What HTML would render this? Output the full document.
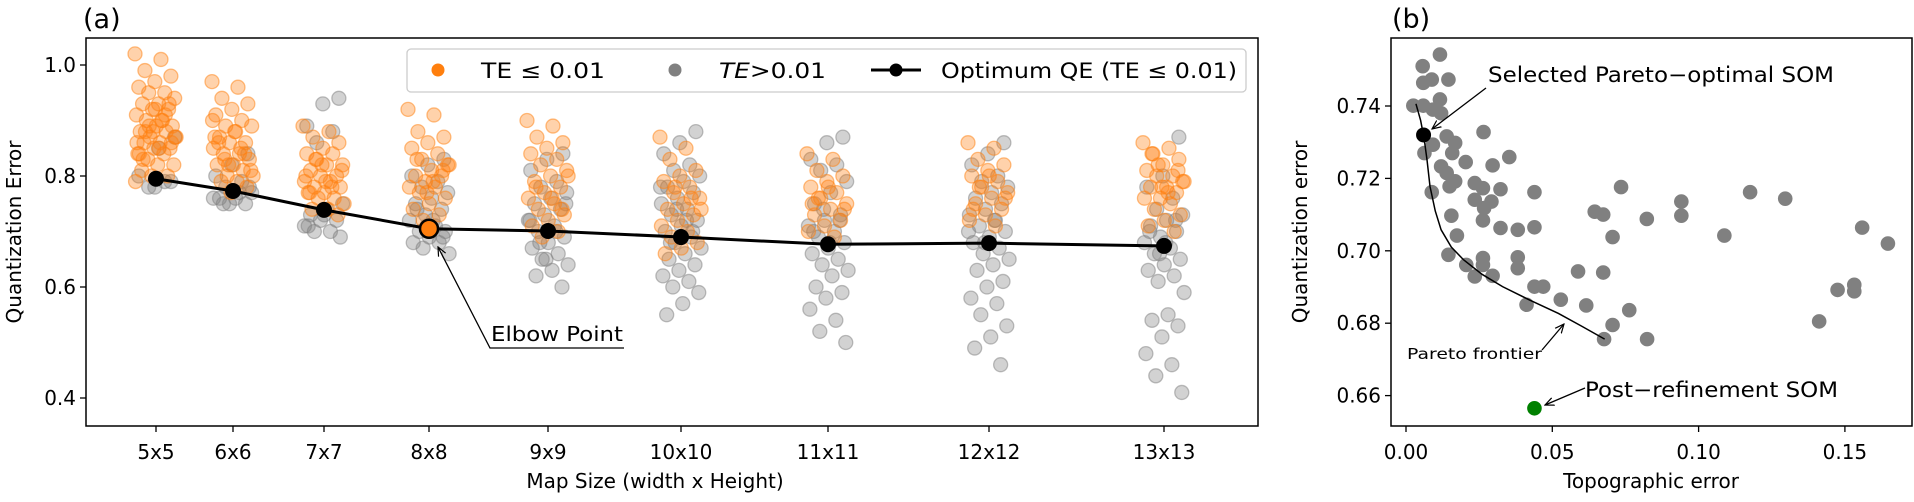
<!DOCTYPE html>
<html><head><meta charset="utf-8"><style>
html,body{margin:0;padding:0;background:#fff;}
svg text{font-family:"DejaVu Sans","Liberation Sans",sans-serif;fill:#000;}
</style></head><body>
<svg id="fig" width="1914" height="497" viewBox="0 0 1914 497" xmlns="http://www.w3.org/2000/svg">
<defs><marker id="ah" markerWidth="10" markerHeight="10" refX="9" refY="5" orient="auto" markerUnits="userSpaceOnUse"><path d="M0,1 L9,5 L0,9" fill="none" stroke="#000" stroke-width="1.2"/></marker></defs>
<g id="pa"></g>
<g id="pb"></g>
</svg>
<script>
// ---------- Panel (a) data ----------
const sizes = [5,6,7,8,9,10,11,12,13];
const sizeLabels = ["5x5","6x6","7x7","8x8","9x9","10x10","11x11","12x12","13x13"];
const optimumQE = [0.795,0.773,0.739,0.705,0.701,0.690,0.677,0.679,0.674];
const orange5 = [1.02,1.01,0.99,0.98,0.97,0.96,0.95,0.95,0.94,0.93,0.93,0.92,0.92,0.91,0.90,0.90,0.89,0.89,0.88,0.88,0.87,0.87,0.86,0.86,0.85,0.85,0.84,0.84,0.83,0.82,0.82,0.81,0.80,0.80,0.79,0.90,0.88,0.86,0.92,0.84,0.91,0.89,0.87,0.85,0.83,0.93,0.88,0.86];
const gray5 = [0.79,0.78,0.80,0.79,0.78,0.87,0.85];
const orange6 = [0.97,0.96,0.94,0.93,0.92,0.91,0.90,0.89,0.89,0.88,0.87,0.86,0.86,0.85,0.84,0.84,0.83,0.82,0.82,0.81,0.80,0.80,0.79,0.79,0.78,0.77,0.87,0.85,0.83,0.81,0.88,0.86,0.84,0.82,0.90];
const gray6 = [0.84,0.82,0.80,0.79,0.78,0.77,0.76,0.76,0.75,0.75,0.76,0.77,0.75,0.78];
const orange7 = [0.89,0.88,0.87,0.86,0.85,0.84,0.84,0.83,0.82,0.82,0.81,0.80,0.80,0.79,0.79,0.78,0.78,0.77,0.77,0.76,0.76,0.75,0.74,0.74,0.73,0.82,0.80,0.78,0.83,0.81,0.79,0.77];
const gray7 = [0.94,0.93,0.89,0.88,0.86,0.75,0.74,0.73,0.72,0.72,0.71,0.70,0.70,0.69,0.73,0.71];
const orange8 = [0.92,0.91,0.88,0.87,0.86,0.85,0.84,0.83,0.82,0.81,0.80,0.80,0.79,0.78,0.78,0.77,0.76,0.75,0.74,0.73,0.72,0.82,0.79,0.83,0.81,0.77];
const gray8 = [0.83,0.82,0.80,0.79,0.78,0.77,0.76,0.75,0.74,0.73,0.72,0.71,0.70,0.70,0.69,0.68,0.68,0.67,0.66,0.72,0.74,0.69,0.71];
const orange9 = [0.90,0.89,0.87,0.86,0.85,0.84,0.83,0.82,0.81,0.80,0.79,0.78,0.77,0.76,0.75,0.74,0.73,0.72,0.71,0.70,0.69,0.80,0.76,0.78,0.74];
const gray9 = [0.84,0.83,0.81,0.79,0.78,0.77,0.76,0.75,0.74,0.73,0.72,0.71,0.70,0.69,0.68,0.67,0.66,0.65,0.64,0.63,0.62,0.60,0.65,0.72,0.70,0.68,0.75];
const orange10 = [0.87,0.85,0.83,0.81,0.80,0.79,0.78,0.77,0.76,0.75,0.74,0.73,0.72,0.71,0.70,0.69,0.68,0.67,0.66,0.76,0.78,0.74];
const gray10 = [0.88,0.86,0.84,0.82,0.81,0.80,0.79,0.78,0.77,0.76,0.75,0.74,0.73,0.72,0.71,0.70,0.69,0.68,0.67,0.66,0.65,0.64,0.63,0.62,0.61,0.60,0.59,0.57,0.55,0.70,0.74,0.78,0.72,0.68];
const orange11 = [0.84,0.83,0.81,0.80,0.79,0.78,0.77,0.76,0.75,0.74,0.73,0.72,0.71,0.70,0.69,0.76,0.74,0.78,0.75];
const gray11 = [0.87,0.86,0.83,0.82,0.81,0.79,0.77,0.75,0.73,0.72,0.71,0.70,0.69,0.68,0.67,0.66,0.65,0.64,0.63,0.62,0.60,0.59,0.58,0.56,0.54,0.52,0.50,0.68,0.70,0.72,0.74];
const orange12 = [0.86,0.85,0.83,0.82,0.81,0.80,0.79,0.78,0.77,0.76,0.75,0.74,0.73,0.72,0.71,0.78,0.76,0.80,0.74];
const gray12 = [0.86,0.84,0.82,0.80,0.79,0.78,0.77,0.76,0.75,0.74,0.73,0.72,0.71,0.70,0.69,0.68,0.67,0.66,0.65,0.64,0.63,0.61,0.60,0.58,0.57,0.55,0.53,0.51,0.49,0.46,0.68,0.70,0.72];
const orange13 = [0.86,0.85,0.84,0.83,0.82,0.81,0.80,0.80,0.79,0.78,0.78,0.77,0.76,0.76,0.75,0.74,0.73,0.72,0.71,0.70,0.82,0.79,0.77,0.84,0.81,0.78];
const gray13 = [0.87,0.80,0.78,0.76,0.74,0.73,0.72,0.71,0.70,0.69,0.68,0.67,0.66,0.65,0.64,0.63,0.62,0.61,0.59,0.55,0.54,0.53,0.51,0.48,0.46,0.44,0.41,0.68,0.70,0.72,0.66];
const orangeGroups = [orange5,orange6,orange7,orange8,orange9,orange10,orange11,orange12,orange13];
const grayGroups = [gray5,gray6,gray7,gray8,gray9,gray10,gray11,gray12,gray13];
const yTicksA = [0.4,0.6,0.8,1.0];
const yTickLabelsA = ["0.4","0.6","0.8","1.0"];

// ---------- Panel (b) data ----------
const teVals = [0.0116,0.0057,0.0088,0.0145,0.0059,0.0116,0.0025,0.0059,0.0092,0.0120,0.0265,0.0139,0.0168,0.0092,0.0063,0.0158,0.0353,0.0204,0.0296,0.0120,0.0139,0.0168,0.0235,0.0149,0.0735,0.0263,0.0323,0.0439,0.1176,0.0088,0.1296,0.0235,0.0292,0.0941,0.0267,0.0645,0.0674,0.0155,0.0941,0.0823,0.0263,0.0323,0.0382,0.0439,0.1559,0.0174,0.1088,0.0706,0.1647,0.0145,0.0263,0.0382,0.0206,0.0263,0.0382,0.0588,0.0674,0.0235,0.0296,0.0439,0.0469,0.1475,0.1532,0.1532,0.0529,0.0412,0.0616,0.0763,0.1412,0.0706,0.0677,0.0824];
const qeVals = [0.7542,0.7510,0.7473,0.7473,0.7464,0.7418,0.7401,0.7401,0.7390,0.7380,0.7328,0.7316,0.7298,0.7293,0.7270,0.7270,0.7259,0.7245,0.7236,0.7233,0.7215,0.7192,0.7187,0.7178,0.7176,0.7173,0.7170,0.7162,0.7162,0.7162,0.7144,0.7141,0.7136,0.7136,0.7118,0.7108,0.7100,0.7097,0.7097,0.7088,0.7084,0.7063,0.7058,0.7065,0.7064,0.7042,0.7042,0.7038,0.7020,0.6989,0.6980,0.6982,0.6961,0.6961,0.6952,0.6943,0.6940,0.6929,0.6931,0.6901,0.6901,0.6892,0.6906,0.6888,0.6865,0.6851,0.6849,0.6836,0.6805,0.6795,0.6756,0.6756];
const selectedTE = 0.0060, selectedQE = 0.7320;
const refinedTE = 0.0439, refinedQE = 0.6565;
const frontierTE = [0.0034,0.0050,0.0062,0.0072,0.0082,0.0100,0.0120,0.0155,0.0197,0.0260,0.0330,0.0420,0.0521,0.0600,0.0679];
const frontierQE = [0.7406,0.7360,0.7310,0.7250,0.7178,0.7110,0.7058,0.7010,0.6975,0.6935,0.6901,0.6865,0.6827,0.6792,0.6756];
const xTicksB = [0,0.05,0.10,0.15];
const xTickLabelsB = ["0.00","0.05","0.10","0.15"];
const yTicksB = [0.66,0.68,0.70,0.72,0.74];
const yTickLabelsB = ["0.66","0.68","0.70","0.72","0.74"];

const NS="http://www.w3.org/2000/svg";
function mk(parent,tag,attrs,txt){const e=document.createElementNS(NS,tag);for(const k in attrs)e.setAttribute(k,attrs[k]);if(txt!==undefined)e.textContent=txt;parent.appendChild(e);return e;}
const FS=20;

// ---------- Panel (a) ----------
const pa=document.getElementById('pa');
const A={l:86,r:1258,t:38,b:426};
const xA=s=>156+(s*s-25)*7.0;
const yA=v=>398-(v-0.4)*555;
const jit=i=>(((i*0.6180339)%1)-0.5)*42;

let grp=mk(pa,'g',{});


grayGroups.forEach((arr,gi)=>arr.forEach((v,i)=>{
  const c=mk(grp,'circle',{cx:xA(sizes[gi])+jit(i+3),cy:yA(v),r:7,fill:'rgba(127,127,127,0.35)',stroke:'rgba(127,127,127,0.5)','stroke-width':1.3});
  
  
}));
let org=mk(pa,'g',{});


orangeGroups.forEach((arr,gi)=>arr.forEach((v,i)=>{
  const c=mk(org,'circle',{cx:xA(sizes[gi])+jit(i),cy:yA(v),r:7,fill:'rgba(255,127,14,0.35)',stroke:'rgba(255,127,14,0.5)','stroke-width':1.3});
  
  
}));
const pts=optimumQE.map((v,i)=>xA(sizes[i])+','+yA(v)).join(' ');
let ln=mk(pa,'polyline',{points:pts,fill:'none',stroke:'#000','stroke-width':3});


optimumQE.forEach((v,i)=>{
  const elbow=i===3;
  const c=mk(pa,'circle',{cx:xA(sizes[i]),cy:yA(v),r:elbow?9:8,fill:elbow?'#ff7f0e':'#000',stroke:'#000','stroke-width':elbow?2.5:0});
  
  
});
mk(pa,'rect',{x:A.l,y:A.t,width:A.r-A.l,height:A.b-A.t,fill:'none',stroke:'#000','stroke-width':1.5});
yTicksA.forEach((v,i)=>{
  mk(pa,'line',{x1:A.l-6,x2:A.l,y1:yA(v),y2:yA(v),stroke:'#000','stroke-width':1.3});
  const t=mk(pa,'text',{x:A.l-10,y:yA(v)+7,'text-anchor':'end','font-size':FS},yTickLabelsA[i]);
  
  
});
sizes.forEach((s,i)=>{
  mk(pa,'line',{x1:xA(s),x2:xA(s),y1:A.b,y2:A.b+6,stroke:'#000','stroke-width':1.3});
  const t=mk(pa,'text',{x:xA(s),y:A.b+33,'text-anchor':'middle','font-size':FS},sizeLabels[i]);
  
  
});
</script>
<script>
(function(){
const pa=document.getElementById('pa');
const NS="http://www.w3.org/2000/svg";
function mk(parent,tag,attrs,txt){const e=document.createElementNS(NS,tag);for(const k in attrs)e.setAttribute(k,attrs[k]);if(txt!==undefined)e.textContent=txt;parent.appendChild(e);return e;}
const SG='spacingAndGlyphs';
let t=mk(pa,'text',{x:83,y:28,'font-size':27},'(a)');


t=mk(pa,'text',{x:655,y:488,'text-anchor':'middle','font-size':20},'Map Size (width x Height)');


t=mk(pa,'text',{x:0,y:0,'text-anchor':'middle','font-size':20,transform:'translate(21,232) rotate(-90)'},'Quantization Error');


mk(pa,'polyline',{points:'624,348 490,348 438,247',fill:'none',stroke:'#000','stroke-width':1.3,'marker-end':'url(#ah)'});
t=mk(pa,'text',{x:491,y:341,'font-size':20,textLength:132,lengthAdjust:SG},'Elbow Point');


const lg=mk(pa,'g',{});


mk(lg,'rect',{x:407,y:49,width:839,height:43,rx:4,fill:'rgba(255,255,255,0.85)',stroke:'#ccc','stroke-width':1.3});
mk(lg,'circle',{cx:438,cy:70,r:6.5,fill:'#ff7f0e'});
t=mk(lg,'text',{x:481,y:78,'font-size':21,textLength:124,lengthAdjust:SG},'TE \u2264 0.01');


mk(lg,'circle',{cx:675,cy:70,r:6.5,fill:'#808080'});
t=mk(lg,'text',{x:719,y:78,'font-size':21,textLength:107,lengthAdjust:SG});
mk(t,'tspan',{'font-style':'italic'},'TE');
mk(t,'tspan',{},'>0.01');


mk(lg,'line',{x1:871,x2:921,y1:70,y2:70,stroke:'#000','stroke-width':3});
mk(lg,'circle',{cx:896,cy:70,r:6.5,fill:'#000'});
t=mk(lg,'text',{x:941,y:78,'font-size':21,textLength:296,lengthAdjust:SG},'Optimum QE (TE \u2264 0.01)');


})();
</script>
<script>
(function(){
const pb=document.getElementById('pb');
const NS="http://www.w3.org/2000/svg";
function mk(parent,tag,attrs,txt){const e=document.createElementNS(NS,tag);for(const k in attrs)e.setAttribute(k,attrs[k]);if(txt!==undefined)e.textContent=txt;parent.appendChild(e);return e;}
const SG='spacingAndGlyphs';
const B={l:1391,r:1912,t:38,b:426};
const xB=v=>1406+v*2926;
const yB=v=>106-(v-0.74)*3620;
teVals.forEach((te,i)=>{
  const c=mk(pb,'circle',{cx:xB(te),cy:yB(qeVals[i]),r:7.3,fill:'#808080'});
  
  
});
const fp=frontierTE.map((v,i)=>xB(v)+','+yB(frontierQE[i])).join(' ');
let f=mk(pb,'polyline',{points:fp,fill:'none',stroke:'#000','stroke-width':1.5});


let c=mk(pb,'circle',{cx:xB(selectedTE),cy:yB(selectedQE),r:7.5,fill:'#000'});


c=mk(pb,'circle',{cx:xB(refinedTE),cy:yB(refinedQE),r:7.3,fill:'#008000'});


mk(pb,'rect',{x:B.l,y:B.t,width:B.r-B.l,height:B.b-B.t,fill:'none',stroke:'#000','stroke-width':1.5});
xTicksB.forEach((v,i)=>{
  mk(pb,'line',{x1:xB(v),x2:xB(v),y1:B.b,y2:B.b+6,stroke:'#000','stroke-width':1.3});
  const t=mk(pb,'text',{x:xB(v),y:B.b+33,'text-anchor':'middle','font-size':20},xTickLabelsB[i]);
  
  
});
yTicksB.forEach((v,i)=>{
  mk(pb,'line',{x1:B.l-6,x2:B.l,y1:yB(v),y2:yB(v),stroke:'#000','stroke-width':1.3});
  const t=mk(pb,'text',{x:B.l-10,y:yB(v)+7,'text-anchor':'end','font-size':20},yTickLabelsB[i]);
  
  
});
let t=mk(pb,'text',{x:1392,y:28,'font-size':27},'(b)');


t=mk(pb,'text',{x:1651,y:488,'text-anchor':'middle','font-size':20},'Topographic error');


t=mk(pb,'text',{x:0,y:0,'text-anchor':'middle','font-size':20,transform:'translate(1307,232) rotate(-90)'},'Quantization error');


mk(pb,'line',{x1:1486,y1:88,x2:1432,y2:129,stroke:'#000','stroke-width':1.3,'marker-end':'url(#ah)'});
t=mk(pb,'text',{x:1488,y:82,'font-size':21,textLength:346,lengthAdjust:SG},'Selected Pareto\u2212optimal SOM');


mk(pb,'line',{x1:1542,y1:350,x2:1564,y2:324,stroke:'#000','stroke-width':1.3,'marker-end':'url(#ah)'});
t=mk(pb,'text',{x:1407,y:359,'font-size':15,textLength:135,lengthAdjust:SG},'Pareto frontier');


mk(pb,'line',{x1:1585,y1:388,x2:1545,y2:405,stroke:'#000','stroke-width':1.3,'marker-end':'url(#ah)'});
t=mk(pb,'text',{x:1585,y:397,'font-size':21,textLength:253,lengthAdjust:SG},'Post\u2212refinement SOM');


})();
</script>
</body></html>
